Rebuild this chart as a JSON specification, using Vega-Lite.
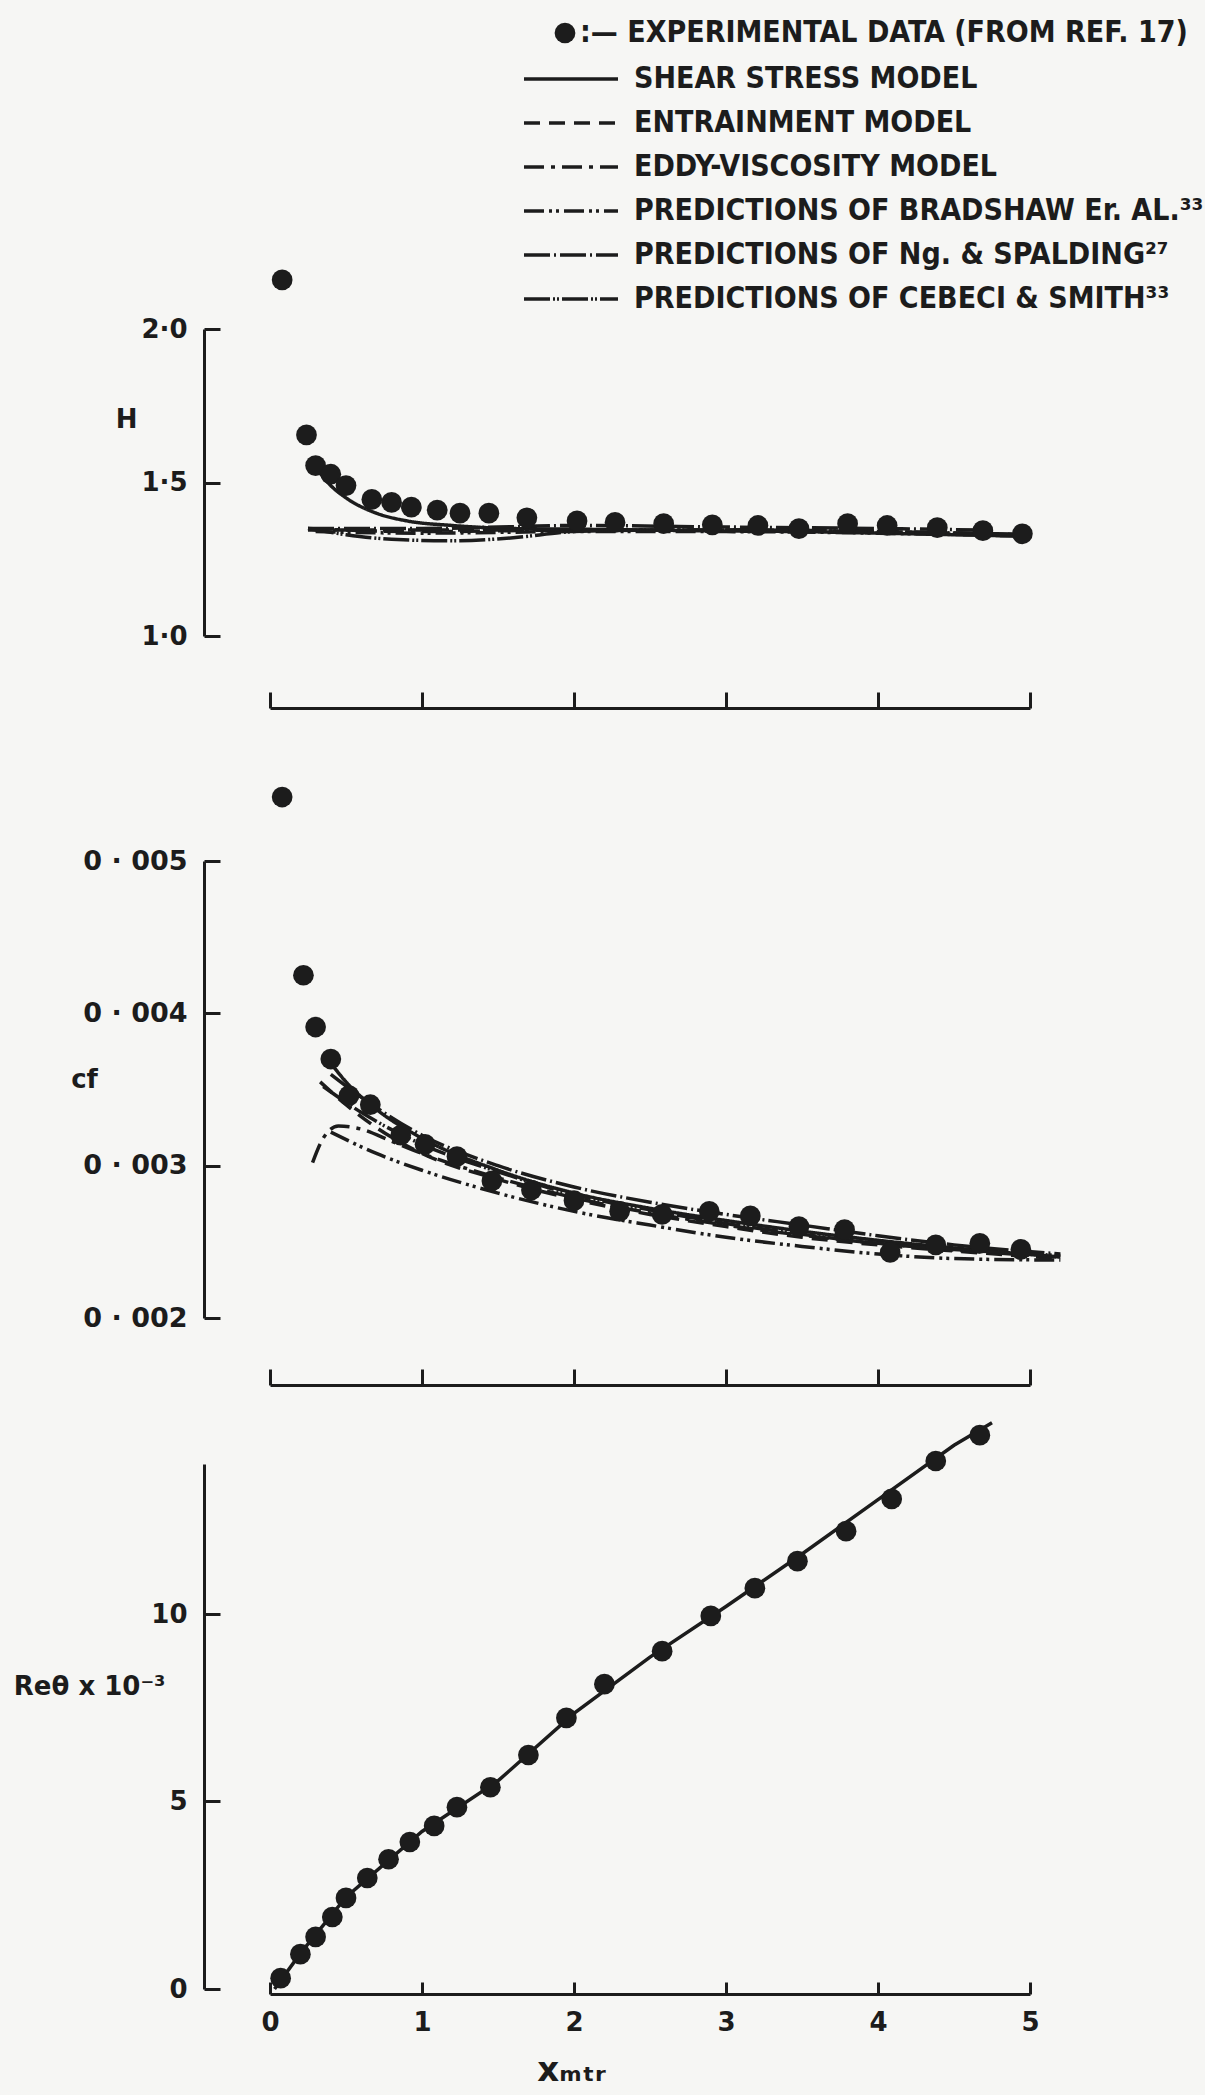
{
  "$schema": "https://vega.github.io/schema/vega-lite/v6.json",
  "background": "#f6f6f4",
  "padding": {"left": 13, "top": 18, "right": 60, "bottom": 40},
  "spacing": 28,
  "config": {
    "view": {"stroke": null},
    "axis": {
      "domainColor": "#1c1c1c", "domainWidth": 3, "tickColor": "#1c1c1c", "tickWidth": 3,
      "grid": false, "labelFont": "DejaVu Sans", "labelFontWeight": "bold", "labelFontSize": 26,
      "labelColor": "#1c1c1c", "titleFont": "DejaVu Sans", "titleFontWeight": "bold",
      "titleFontSize": 26, "titleColor": "#1c1c1c", "labelFlush": false, "labelOverlap": false
    },
    "legend": {"padding": 0}
  },
  "datasets": {
    "H_exp": [
      {"x":0.08,"H":2.16},{"x":0.24,"H":1.655},{"x":0.3,"H":1.555},{"x":0.4,"H":1.527},{"x":0.5,"H":1.49},
      {"x":0.67,"H":1.445},{"x":0.8,"H":1.435},{"x":0.93,"H":1.42},{"x":1.1,"H":1.41},{"x":1.25,"H":1.4},
      {"x":1.44,"H":1.4},{"x":1.69,"H":1.385},{"x":2.02,"H":1.375},{"x":2.27,"H":1.37},{"x":2.59,"H":1.366},
      {"x":2.91,"H":1.362},{"x":3.21,"H":1.36},{"x":3.48,"H":1.35},{"x":3.8,"H":1.366},{"x":4.06,"H":1.36},
      {"x":4.39,"H":1.353},{"x":4.69,"H":1.343},{"x":4.95,"H":1.333}
    ],
    "H_model": [
      {"model":"SHEAR STRESS MODEL","x":0.3,"H":1.55},{"model":"SHEAR STRESS MODEL","x":0.4,"H":1.49},
      {"model":"SHEAR STRESS MODEL","x":0.5,"H":1.45},{"model":"SHEAR STRESS MODEL","x":0.7,"H":1.4},
      {"model":"SHEAR STRESS MODEL","x":0.9,"H":1.375},{"model":"SHEAR STRESS MODEL","x":1.2,"H":1.36},
      {"model":"SHEAR STRESS MODEL","x":1.6,"H":1.35},{"model":"SHEAR STRESS MODEL","x":2.0,"H":1.348},
      {"model":"SHEAR STRESS MODEL","x":2.5,"H":1.345},{"model":"SHEAR STRESS MODEL","x":3.0,"H":1.342},
      {"model":"SHEAR STRESS MODEL","x":3.5,"H":1.34},{"model":"SHEAR STRESS MODEL","x":4.0,"H":1.335},
      {"model":"SHEAR STRESS MODEL","x":4.5,"H":1.33},{"model":"SHEAR STRESS MODEL","x":5.0,"H":1.325},
      {"model":"ENTRAINMENT MODEL","x":0.25,"H":1.345},{"model":"ENTRAINMENT MODEL","x":0.5,"H":1.345},
      {"model":"ENTRAINMENT MODEL","x":1.0,"H":1.345},{"model":"ENTRAINMENT MODEL","x":1.5,"H":1.345},
      {"model":"ENTRAINMENT MODEL","x":2.0,"H":1.345},{"model":"ENTRAINMENT MODEL","x":3.0,"H":1.345},
      {"model":"ENTRAINMENT MODEL","x":4.0,"H":1.34},{"model":"ENTRAINMENT MODEL","x":5.0,"H":1.33},
      {"model":"EDDY-VISCOSITY MODEL","x":0.25,"H":1.35},{"model":"EDDY-VISCOSITY MODEL","x":0.5,"H":1.345},
      {"model":"EDDY-VISCOSITY MODEL","x":1.0,"H":1.34},{"model":"EDDY-VISCOSITY MODEL","x":2.0,"H":1.345},
      {"model":"EDDY-VISCOSITY MODEL","x":3.0,"H":1.345},{"model":"EDDY-VISCOSITY MODEL","x":4.0,"H":1.34},
      {"model":"EDDY-VISCOSITY MODEL","x":5.0,"H":1.33},
      {"model":"PREDICTIONS OF BRADSHAW Er. AL.³³","x":0.3,"H":1.34},{"model":"PREDICTIONS OF BRADSHAW Er. AL.³³","x":1.0,"H":1.335},
      {"model":"PREDICTIONS OF BRADSHAW Er. AL.³³","x":2.0,"H":1.34},{"model":"PREDICTIONS OF BRADSHAW Er. AL.³³","x":3.0,"H":1.34},
      {"model":"PREDICTIONS OF BRADSHAW Er. AL.³³","x":4.0,"H":1.335},{"model":"PREDICTIONS OF BRADSHAW Er. AL.³³","x":5.0,"H":1.325},
      {"model":"PREDICTIONS OF Ng. & SPALDING²⁷","x":0.25,"H":1.35},{"model":"PREDICTIONS OF Ng. & SPALDING²⁷","x":0.6,"H":1.35},
      {"model":"PREDICTIONS OF Ng. & SPALDING²⁷","x":1.0,"H":1.35},{"model":"PREDICTIONS OF Ng. & SPALDING²⁷","x":1.5,"H":1.355},
      {"model":"PREDICTIONS OF Ng. & SPALDING²⁷","x":2.0,"H":1.36},{"model":"PREDICTIONS OF Ng. & SPALDING²⁷","x":3.0,"H":1.355},
      {"model":"PREDICTIONS OF Ng. & SPALDING²⁷","x":4.0,"H":1.35},{"model":"PREDICTIONS OF Ng. & SPALDING²⁷","x":4.7,"H":1.345},
      {"model":"PREDICTIONS OF CEBECI & SMITH³³","x":0.25,"H":1.35},{"model":"PREDICTIONS OF CEBECI & SMITH³³","x":0.5,"H":1.33},
      {"model":"PREDICTIONS OF CEBECI & SMITH³³","x":0.8,"H":1.315},{"model":"PREDICTIONS OF CEBECI & SMITH³³","x":1.2,"H":1.31},
      {"model":"PREDICTIONS OF CEBECI & SMITH³³","x":1.6,"H":1.32},{"model":"PREDICTIONS OF CEBECI & SMITH³³","x":2.0,"H":1.34},
      {"model":"PREDICTIONS OF CEBECI & SMITH³³","x":2.5,"H":1.345},{"model":"PREDICTIONS OF CEBECI & SMITH³³","x":3.0,"H":1.345},
      {"model":"PREDICTIONS OF CEBECI & SMITH³³","x":4.0,"H":1.34},{"model":"PREDICTIONS OF CEBECI & SMITH³³","x":5.0,"H":1.33}
    ],
    "cf_exp": [
      {"x":0.08,"cf":0.00542},{"x":0.22,"cf":0.00425},{"x":0.3,"cf":0.00391},{"x":0.4,"cf":0.0037},{"x":0.52,"cf":0.00346},
      {"x":0.66,"cf":0.0034},{"x":0.86,"cf":0.0032},{"x":1.02,"cf":0.00314},{"x":1.23,"cf":0.00306},{"x":1.46,"cf":0.0029},
      {"x":1.72,"cf":0.00284},{"x":2.0,"cf":0.00277},{"x":2.3,"cf":0.0027},{"x":2.58,"cf":0.00268},{"x":2.89,"cf":0.0027},
      {"x":3.16,"cf":0.00267},{"x":3.48,"cf":0.0026},{"x":3.78,"cf":0.00258},{"x":4.08,"cf":0.00243},{"x":4.38,"cf":0.00248},
      {"x":4.67,"cf":0.00249},{"x":4.94,"cf":0.00245}
    ],
    "cf_model": [
      {"model":"SHEAR STRESS MODEL","x":0.38,"cf":0.0037},{"model":"SHEAR STRESS MODEL","x":0.5,"cf":0.00355},
      {"model":"SHEAR STRESS MODEL","x":0.7,"cf":0.00337},{"model":"SHEAR STRESS MODEL","x":1.0,"cf":0.00318},
      {"model":"SHEAR STRESS MODEL","x":1.5,"cf":0.00297},{"model":"SHEAR STRESS MODEL","x":2.0,"cf":0.00282},
      {"model":"SHEAR STRESS MODEL","x":2.5,"cf":0.00272},{"model":"SHEAR STRESS MODEL","x":3.0,"cf":0.00264},
      {"model":"SHEAR STRESS MODEL","x":3.5,"cf":0.00257},{"model":"SHEAR STRESS MODEL","x":4.0,"cf":0.00251},
      {"model":"SHEAR STRESS MODEL","x":4.5,"cf":0.00246},{"model":"SHEAR STRESS MODEL","x":5.2,"cf":0.0024},
      {"model":"ENTRAINMENT MODEL","x":0.33,"cf":0.00355},{"model":"ENTRAINMENT MODEL","x":0.5,"cf":0.0034},
      {"model":"ENTRAINMENT MODEL","x":0.7,"cf":0.00325},{"model":"ENTRAINMENT MODEL","x":1.0,"cf":0.00308},
      {"model":"ENTRAINMENT MODEL","x":1.5,"cf":0.00291},{"model":"ENTRAINMENT MODEL","x":2.0,"cf":0.00278},
      {"model":"ENTRAINMENT MODEL","x":2.5,"cf":0.00268},{"model":"ENTRAINMENT MODEL","x":3.0,"cf":0.0026},
      {"model":"ENTRAINMENT MODEL","x":3.5,"cf":0.00253},{"model":"ENTRAINMENT MODEL","x":4.0,"cf":0.00248},
      {"model":"ENTRAINMENT MODEL","x":4.5,"cf":0.00244},{"model":"ENTRAINMENT MODEL","x":5.2,"cf":0.00239},
      {"model":"EDDY-VISCOSITY MODEL","x":0.28,"cf":0.00302},{"model":"EDDY-VISCOSITY MODEL","x":0.35,"cf":0.00318},
      {"model":"EDDY-VISCOSITY MODEL","x":0.45,"cf":0.00326},{"model":"EDDY-VISCOSITY MODEL","x":0.6,"cf":0.00324},
      {"model":"EDDY-VISCOSITY MODEL","x":0.8,"cf":0.00316},{"model":"EDDY-VISCOSITY MODEL","x":1.0,"cf":0.00308},
      {"model":"EDDY-VISCOSITY MODEL","x":1.5,"cf":0.00292},{"model":"EDDY-VISCOSITY MODEL","x":2.0,"cf":0.00279},
      {"model":"EDDY-VISCOSITY MODEL","x":3.0,"cf":0.00261},{"model":"EDDY-VISCOSITY MODEL","x":4.0,"cf":0.00249},
      {"model":"EDDY-VISCOSITY MODEL","x":5.2,"cf":0.0024},
      {"model":"PREDICTIONS OF BRADSHAW Er. AL.³³","x":0.4,"cf":0.00322},{"model":"PREDICTIONS OF BRADSHAW Er. AL.³³","x":0.7,"cf":0.00308},
      {"model":"PREDICTIONS OF BRADSHAW Er. AL.³³","x":1.0,"cf":0.00297},{"model":"PREDICTIONS OF BRADSHAW Er. AL.³³","x":1.5,"cf":0.00282},
      {"model":"PREDICTIONS OF BRADSHAW Er. AL.³³","x":2.0,"cf":0.0027},{"model":"PREDICTIONS OF BRADSHAW Er. AL.³³","x":2.5,"cf":0.00261},
      {"model":"PREDICTIONS OF BRADSHAW Er. AL.³³","x":3.0,"cf":0.00253},{"model":"PREDICTIONS OF BRADSHAW Er. AL.³³","x":3.5,"cf":0.00247},
      {"model":"PREDICTIONS OF BRADSHAW Er. AL.³³","x":4.0,"cf":0.00242},{"model":"PREDICTIONS OF BRADSHAW Er. AL.³³","x":4.5,"cf":0.00239},
      {"model":"PREDICTIONS OF BRADSHAW Er. AL.³³","x":5.2,"cf":0.00238},
      {"model":"PREDICTIONS OF Ng. & SPALDING²⁷","x":0.4,"cf":0.0036},{"model":"PREDICTIONS OF Ng. & SPALDING²⁷","x":0.6,"cf":0.00345},
      {"model":"PREDICTIONS OF Ng. & SPALDING²⁷","x":1.0,"cf":0.0032},{"model":"PREDICTIONS OF Ng. & SPALDING²⁷","x":1.5,"cf":0.003},
      {"model":"PREDICTIONS OF Ng. & SPALDING²⁷","x":2.0,"cf":0.00286},{"model":"PREDICTIONS OF Ng. & SPALDING²⁷","x":2.5,"cf":0.00276},
      {"model":"PREDICTIONS OF Ng. & SPALDING²⁷","x":3.0,"cf":0.00268},{"model":"PREDICTIONS OF Ng. & SPALDING²⁷","x":3.5,"cf":0.00261},
      {"model":"PREDICTIONS OF Ng. & SPALDING²⁷","x":4.0,"cf":0.00254},{"model":"PREDICTIONS OF Ng. & SPALDING²⁷","x":4.5,"cf":0.00248},
      {"model":"PREDICTIONS OF Ng. & SPALDING²⁷","x":5.2,"cf":0.00242},
      {"model":"PREDICTIONS OF CEBECI & SMITH³³","x":0.35,"cf":0.00352},{"model":"PREDICTIONS OF CEBECI & SMITH³³","x":0.6,"cf":0.00335},
      {"model":"PREDICTIONS OF CEBECI & SMITH³³","x":1.0,"cf":0.00314},{"model":"PREDICTIONS OF CEBECI & SMITH³³","x":1.5,"cf":0.00296},
      {"model":"PREDICTIONS OF CEBECI & SMITH³³","x":2.0,"cf":0.00281},{"model":"PREDICTIONS OF CEBECI & SMITH³³","x":2.5,"cf":0.00271},
      {"model":"PREDICTIONS OF CEBECI & SMITH³³","x":3.0,"cf":0.00262},{"model":"PREDICTIONS OF CEBECI & SMITH³³","x":3.5,"cf":0.00255},
      {"model":"PREDICTIONS OF CEBECI & SMITH³³","x":4.0,"cf":0.00249},{"model":"PREDICTIONS OF CEBECI & SMITH³³","x":4.5,"cf":0.00245},
      {"model":"PREDICTIONS OF CEBECI & SMITH³³","x":5.2,"cf":0.00241}
    ],
    "re_exp": [
      {"x":0.07,"Re":0.29},{"x":0.2,"Re":0.93},{"x":0.3,"Re":1.39},{"x":0.41,"Re":1.92},{"x":0.5,"Re":2.43},
      {"x":0.64,"Re":2.96},{"x":0.78,"Re":3.46},{"x":0.92,"Re":3.92},{"x":1.08,"Re":4.35},{"x":1.23,"Re":4.85},
      {"x":1.45,"Re":5.38},{"x":1.7,"Re":6.24},{"x":1.95,"Re":7.23},{"x":2.2,"Re":8.13},{"x":2.58,"Re":9.01},
      {"x":2.9,"Re":9.95},{"x":3.19,"Re":10.69},{"x":3.47,"Re":11.41},{"x":3.79,"Re":12.21},{"x":4.09,"Re":13.07},
      {"x":4.38,"Re":14.08},{"x":4.67,"Re":14.77}
    ],
    "re_model": [
      {"x":0.03,"Re":0.0},{"x":0.2,"Re":0.95},{"x":0.5,"Re":2.45},{"x":1.0,"Re":4.2},{"x":1.5,"Re":5.55},
      {"x":2.0,"Re":7.35},{"x":2.5,"Re":8.85},{"x":3.0,"Re":10.2},{"x":3.5,"Re":11.6},{"x":4.0,"Re":13.05},
      {"x":4.5,"Re":14.5},{"x":4.75,"Re":15.1}
    ]
  },
  "vconcat": [
    {
      "width": 760,
      "height": 307,
      "layer": [
        {
          "data": {"name": "H_model"},
          "mark": {"type": "line", "strokeWidth": 3.5, "color": "#1c1c1c", "interpolate": "monotone"},
          "encoding": {
            "x": {"field": "x", "type": "quantitative", "scale": {"domain": [0, 5], "nice": false},
              "axis": {"offset": 72, "tickSize": -16, "labels": false, "values": [0, 1, 2, 3, 4, 5],
                "title": ".", "titleColor": "#f6f6f4", "titleFontSize": 10, "titleY": 50, "titleBaseline": "bottom"}},
            "y": {"field": "H", "type": "quantitative", "scale": {"domain": [1, 2], "nice": false, "zero": false},
              "axis": {"offset": 66, "tickSize": -16, "labelPadding": 33, "values": [1, 1.5, 2],
                "labelExpr": "replace(format(datum.value, '.1f'), '.', '·')",
                "title": "H", "titleAngle": 0, "titleX": -78, "titleY": 90, "titleAlign": "center", "titleBaseline": "middle"}},
            "strokeDash": {"field": "model", "type": "nominal",
              "scale": {"domain": ["SHEAR STRESS MODEL", "ENTRAINMENT MODEL", "EDDY-VISCOSITY MODEL", "PREDICTIONS OF BRADSHAW Er. AL.³³", "PREDICTIONS OF Ng. & SPALDING²⁷", "PREDICTIONS OF CEBECI & SMITH³³"],
                "range": [[1, 0], [16, 9], [20, 7, 4, 7], [20, 5, 3, 4, 3, 5], [26, 4, 2, 4], [26, 3, 2, 2, 2, 3]]},
              "legend": {"orient": "none", "legendX": 249, "legendY": -265, "title": null, "symbolType": "M-4.7,0H4.7",
                "symbolSize": 400, "symbolOffset": 37, "symbolStrokeWidth": 3.5, "symbolStrokeColor": "#1c1c1c",
                "labelFont": "DejaVu Sans Condensed", "labelFontWeight": "bold", "labelFontSize": 30,
                "labelColor": "#1c1c1c", "labelOffset": 48, "rowPadding": 14, "labelLimit": 800}}
          }
        },
        {
          "data": {"name": "H_exp"},
          "mark": {"type": "point", "filled": true, "size": 430, "color": "#1c1c1c", "opacity": 1},
          "encoding": {
            "x": {"field": "x", "type": "quantitative"},
            "y": {"field": "H", "type": "quantitative"},
            "shape": {"datum": "EXPERIMENTAL DATA (FROM REF. 17)", "type": "nominal", "scale": {"range": ["circle"]},
              "legend": {"orient": "none", "legendX": 280, "legendY": -311, "title": null, "symbolSize": 430,
                "symbolFillColor": "#1c1c1c", "symbolStrokeColor": "#1c1c1c", "symbolStrokeWidth": 0,
                "labelExpr": "':—  ' + datum.label", "labelFont": "DejaVu Sans Condensed", "labelFontWeight": "bold",
                "labelFontSize": 30, "labelColor": "#1c1c1c", "labelOffset": 0, "labelLimit": 800}}
          }
        }
      ]
    },
    {
      "width": 760,
      "height": 457,
      "layer": [
        {
          "data": {"name": "cf_model"},
          "mark": {"type": "line", "strokeWidth": 3.5, "color": "#1c1c1c", "interpolate": "monotone"},
          "encoding": {
            "x": {"field": "x", "type": "quantitative", "scale": {"domain": [0, 5], "nice": false},
              "axis": {"offset": 67, "tickSize": -16, "labels": false, "title": null, "values": [0, 1, 2, 3, 4, 5]}},
            "y": {"field": "cf", "type": "quantitative", "scale": {"domain": [0.002, 0.005], "nice": false, "zero": false},
              "axis": {"offset": 66, "tickSize": -16, "labelPadding": 33, "values": [0.002, 0.003, 0.004, 0.005],
                "labelFontSize": 27,
                "labelExpr": "replace(format(datum.value, '.3f'), '.', ' · ')",
                "title": "cf", "titleAngle": 0, "titleX": -120, "titleY": 218, "titleAlign": "center", "titleBaseline": "middle"}},
            "strokeDash": {"field": "model", "type": "nominal",
              "scale": {"domain": ["SHEAR STRESS MODEL", "ENTRAINMENT MODEL", "EDDY-VISCOSITY MODEL", "PREDICTIONS OF BRADSHAW Er. AL.³³", "PREDICTIONS OF Ng. & SPALDING²⁷", "PREDICTIONS OF CEBECI & SMITH³³"],
                "range": [[1, 0], [16, 9], [20, 7, 4, 7], [20, 5, 3, 4, 3, 5], [26, 4, 2, 4], [26, 3, 2, 2, 2, 3]]},
              "legend": null}
          }
        },
        {
          "data": {"name": "cf_exp"},
          "mark": {"type": "point", "filled": true, "size": 430, "color": "#1c1c1c", "opacity": 1},
          "encoding": {
            "x": {"field": "x", "type": "quantitative"},
            "y": {"field": "cf", "type": "quantitative"}
          }
        }
      ]
    },
    {
      "width": 760,
      "height": 525,
      "layer": [
        {
          "data": {"name": "re_model"},
          "mark": {"type": "line", "strokeWidth": 3.5, "color": "#1c1c1c"},
          "encoding": {
            "x": {"field": "x", "type": "quantitative", "scale": {"domain": [0, 5], "nice": false},
              "axis": {"offset": 5, "tickSize": -12, "labelPadding": 27, "values": [0, 1, 2, 3, 4, 5], "format": "d",
                "title": "xₘₜᵣ", "titleFontSize": 34, "titleX": 301, "titleY": 76, "titleAlign": "center", "titleBaseline": "middle"}},
            "y": {"field": "Re", "type": "quantitative", "scale": {"domain": [0, 14], "nice": false},
              "axis": {"offset": 66, "tickSize": -16, "labelPadding": 33, "values": [0, 5, 10],
                "title": "Reθ x 10⁻³", "titleAngle": 0, "titleX": -39, "titleY": 222, "titleAlign": "right", "titleBaseline": "middle"}}
          }
        },
        {
          "data": {"name": "re_exp"},
          "mark": {"type": "point", "filled": true, "size": 430, "color": "#1c1c1c", "opacity": 1},
          "encoding": {
            "x": {"field": "x", "type": "quantitative"},
            "y": {"field": "Re", "type": "quantitative"}
          }
        }
      ]
    }
  ]
}
